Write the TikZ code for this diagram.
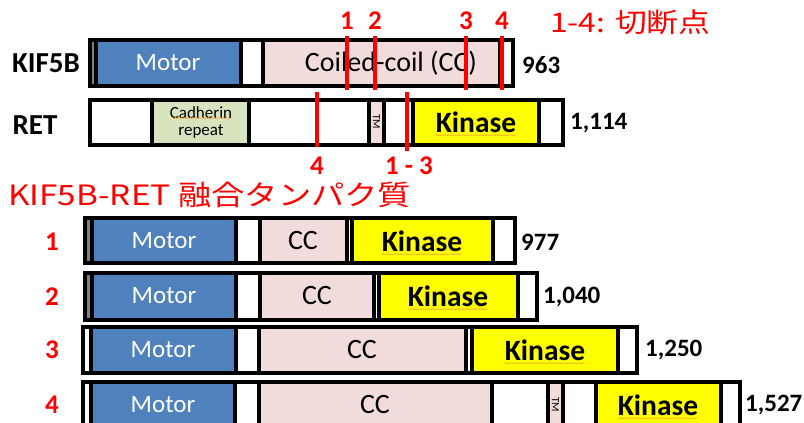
\documentclass[tikz,border=0pt]{standalone}
\usepackage{fontspec}
\setmainfont{Carlito}
\newfontfamily\jpfont{Noto Sans CJK JP}
\usetikzlibrary{decorations.pathmorphing}
\definecolor{motorblue}{HTML}{4F81BD}
\definecolor{ccpink}{HTML}{F2DCDB}
\definecolor{kinyellow}{HTML}{FFFF00}
\definecolor{cadgreen}{HTML}{D7E4BD}
\definecolor{cutred}{HTML}{FF0000}
\definecolor{squigcol}{HTML}{F0A030}
\newcommand\segbox[5]{\filldraw[segline,fill=#5] (#1,#3) rectangle (#2,#4);}
\begin{document}
\begin{tikzpicture}[x=1pt,y=-1pt,
 segline/.style={draw=black,line width=3.4pt},
 cut/.style={draw=cutred,line width=3.5pt},
 cutlbl/.style={text=cutred,font=\bfseries\fontsize{27}{27}\selectfont,inner sep=0pt},
 lbl/.style={font=\bfseries\fontsize{29}{29}\selectfont,inner sep=0pt},
 len/.style={font=\bfseries\fontsize{25}{25}\selectfont,anchor=west,inner sep=0pt},
 motortxt/.style={text=white,font=\fontsize{25}{25}\selectfont,inner sep=0pt},
 cctxt/.style={font=\fontsize{28}{28}\selectfont,inner sep=0pt},
 kintxt/.style={font=\bfseries\fontsize{29.5}{29.5}\selectfont,inner sep=0pt},
 tmtxt/.style={font=\fontsize{11}{11}\selectfont,inner sep=0pt,rotate=-90},
 squig/.style={draw=squigcol,line width=0.5pt,decorate,decoration={snake,amplitude=0.6pt,segment length=3pt}},
]
\useasboundingbox (0,0) rectangle (804,423);
\clip (0,0) rectangle (804,423);
\fill[white] (0,0) rectangle (804,423);

% ---------- KIF5B ----------
\node[lbl] (kiflbl) at (46,63) {KIF5B};
\segbox{90}{96}{40}{86}{gray}
\segbox{96}{241}{40}{86}{motorblue}
\segbox{241}{263}{40}{86}{white}
\segbox{263}{500}{40}{86}{ccpink}
\segbox{500}{513}{40}{86}{white}
\node[motortxt] (kmotor) at (168,63) {Motor};
\node[cctxt] (kcc) at (391,63) {Coiled-coil (CC)};
\node[len] (klen) at (522,65) {963};

% ---------- RET ----------
\node[lbl] (retlbl) at (35,125) {RET};
\segbox{90}{152}{100}{145}{white}
\segbox{152}{249}{100}{145}{cadgreen}
\segbox{249}{369}{100}{145}{white}
\segbox{369}{384}{100}{145}{ccpink}
\segbox{384}{413}{100}{145}{white}
\segbox{413}{539}{100}{145}{kinyellow}
\segbox{539}{563}{100}{145}{white}
\node[font=\fontsize{17}{17}\selectfont,align=center,inner sep=0pt] (cad) at (201,122) {Cadherin\\repeat};
\draw[squig] ([yshift=-12pt,xshift=2pt]cad.north west) -- ([yshift=-12pt,xshift=-2pt]cad.north east);
\node[tmtxt] (tm0) at (376.5,122) {TM};
\node[kintxt] (rkin) at (476,122) {Kinase};
\draw[squig] ([yshift=-3pt]rkin.base west) -- ([yshift=-3pt]rkin.base east);
\node[len] (rlen) at (570,123) {1,114};

% ---------- cut points ----------
\coordinate (c1t) at (347,36); \coordinate (c1b) at (347,90);
\coordinate (c2t) at (375,36); \coordinate (c2b) at (375,90);
\coordinate (c3t) at (466,36); \coordinate (c3b) at (466,90);
\coordinate (c4t) at (502,36); \coordinate (c4b) at (502,90);
\coordinate (r4t) at (317,92); \coordinate (r4b) at (317,147);
\coordinate (r13t) at (407,92); \coordinate (r13b) at (407,151);
\draw[cut] (c1t) -- (c1b);
\draw[cut] (c2t) -- (c2b);
\draw[cut] (c3t) -- (c3b);
\draw[cut] (c4t) -- (c4b);
\draw[cut] (r4t) -- (r4b);
\draw[cut] (r13t) -- (r13b);
\node[cutlbl] (l1) at (347,21) {1};
\node[cutlbl] (l2) at (375,21) {2};
\node[cutlbl] (l3) at (466,21) {3};
\node[cutlbl] (l4) at (502,21) {4};
\node[cutlbl] (l4b) at (317,166) {4};
\node[cutlbl] (l13) at (409,166) {1 - 3};
\node[anchor=west,text=cutred,font=\jpfont\fontsize{27}{27}\selectfont,inner sep=0pt,xscale=1.18] (legend) at (550,22) {1-4: 切断点};

% ---------- title ----------
\node[anchor=west,text=cutred,font=\jpfont\fontsize{28}{28}\selectfont,inner sep=0pt,xscale=1.19] (title) at (8,195) {KIF5B-RET 融合タンパク質};

% ---------- fusion 1 ----------
\node[cutlbl] (f1lbl) at (52,242) {1};
\segbox{85}{92}{218}{263}{gray}
\segbox{92}{236}{218}{263}{motorblue}
\segbox{236}{260}{218}{263}{white}
\segbox{260}{347}{218}{263}{ccpink}
\segbox{347}{352}{218}{263}{white}
\segbox{352}{493}{218}{263}{kinyellow}
\segbox{493}{515}{218}{263}{white}
\node[motortxt] (m1) at (164,241) {Motor};
\node[cctxt] (cc1) at (303,241) {CC};
\node[kintxt] (k1) at (422,241) {Kinase};
\draw[squig] ([yshift=-3pt]k1.base west) -- ([yshift=-3pt]k1.base east);
\node[len] (n1) at (521,242) {977};

% ---------- fusion 2 ----------
\node[cutlbl] (f2lbl) at (52,297) {2};
\segbox{85}{92}{273}{320}{gray}
\segbox{92}{236}{273}{320}{motorblue}
\segbox{236}{260}{273}{320}{white}
\segbox{260}{374}{273}{320}{ccpink}
\segbox{374}{379}{273}{320}{white}
\segbox{379}{518}{273}{320}{kinyellow}
\segbox{518}{537}{273}{320}{white}
\node[motortxt] (m2) at (164,296) {Motor};
\node[cctxt] (cc2) at (317,296) {CC};
\node[kintxt] (k2) at (448,296) {Kinase};
\draw[squig] ([yshift=-3pt]k2.base west) -- ([yshift=-3pt]k2.base east);
\node[len] (n2) at (543,297) {1,040};

% ---------- fusion 3 ----------
\node[cutlbl] (f3lbl) at (52,350) {3};
\segbox{83}{91}{327}{373}{white}
\segbox{91}{236}{327}{373}{motorblue}
\segbox{236}{259}{327}{373}{white}
\segbox{259}{466}{327}{373}{ccpink}
\segbox{466}{472}{327}{373}{white}
\segbox{472}{618}{327}{373}{kinyellow}
\segbox{618}{637}{327}{373}{white}
\node[motortxt] (m3) at (163,350) {Motor};
\node[cctxt] (cc3) at (362,350) {CC};
\node[kintxt] (k3) at (545,350) {Kinase};
\draw[squig] ([yshift=-3pt]k3.base west) -- ([yshift=-3pt]k3.base east);
\node[len] (n3) at (645,350) {1,250};

% ---------- fusion 4 ----------
\node[cutlbl] (f4lbl) at (52,405) {4};
\segbox{83}{91}{382}{428}{white}
\segbox{91}{235}{382}{428}{motorblue}
\segbox{235}{259}{382}{428}{white}
\segbox{259}{492}{382}{428}{ccpink}
\segbox{492}{548}{382}{428}{white}
\segbox{548}{563}{382}{428}{ccpink}
\segbox{563}{596}{382}{428}{white}
\segbox{596}{721}{382}{428}{kinyellow}
\segbox{721}{740}{382}{428}{white}
\node[motortxt] (m4) at (163,405) {Motor};
\node[cctxt] (cc4) at (375,405) {CC};
\node[tmtxt] (tm4) at (555.5,405) {TM};
\node[kintxt] (k4) at (658,405) {Kinase};
\draw[squig] ([yshift=-3pt]k4.base west) -- ([yshift=-3pt]k4.base east);
\node[len] (n4) at (745,405) {1,527};
\end{tikzpicture}
\end{document}
